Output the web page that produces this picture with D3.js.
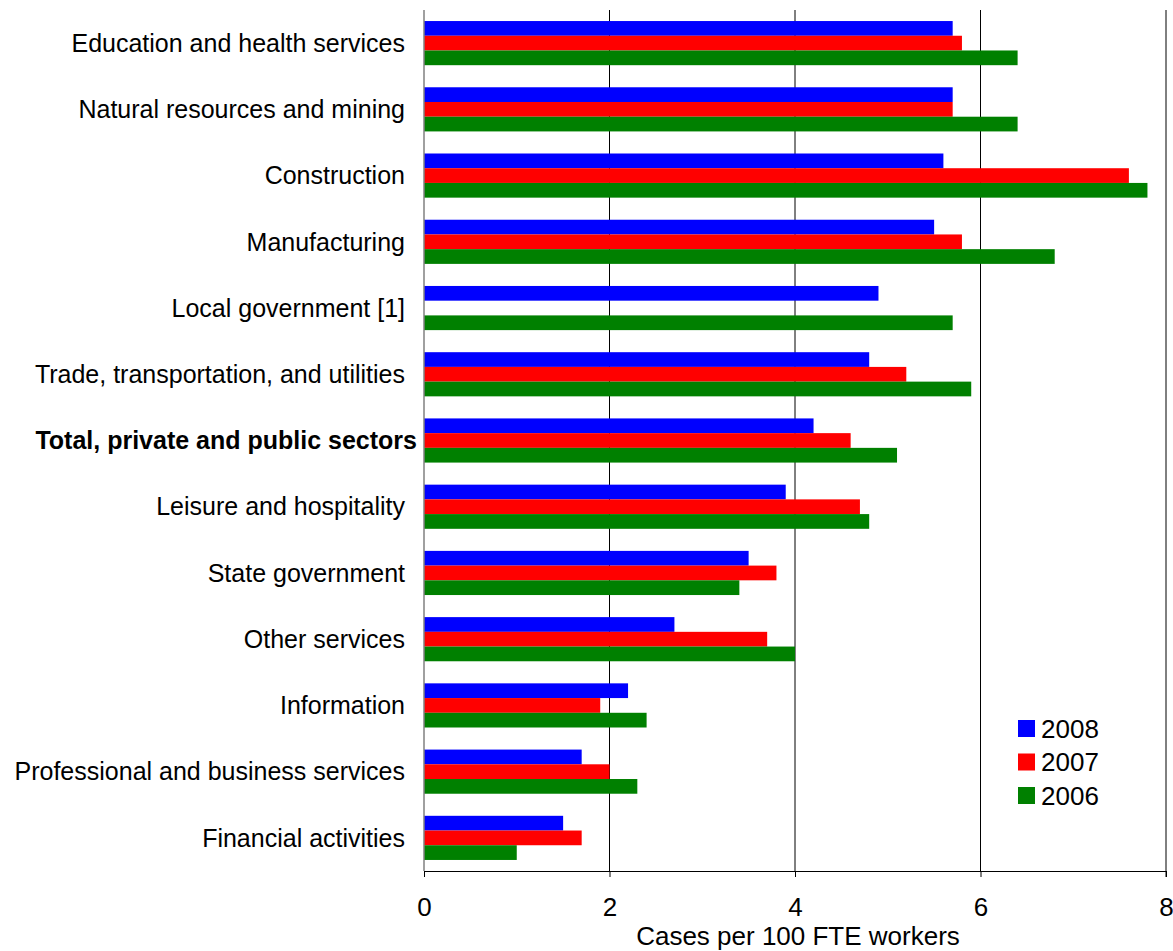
<!DOCTYPE html>
<html>
<head>
<meta charset="utf-8">
<script src="https://cdnjs.cloudflare.com/ajax/libs/d3/7.8.5/d3.min.js"></script>
<style>
  body { margin: 0; background: #fff; }
  .vis { width: 1173px; height: 951px; }
  text { font-family: "Liberation Sans", Arial, sans-serif; fill: #000; }
</style>
</head>
<body>
<div class="vis"></div>
<script>
(function() {
  'use strict';

  var categories = [
    'Education and health services',
    'Natural resources and mining',
    'Construction',
    'Manufacturing',
    'Local government [1]',
    'Trade, transportation, and utilities',
    'Total, private and public sectors',
    'Leisure and hospitality',
    'State government',
    'Other services',
    'Information',
    'Professional and business services',
    'Financial activities'
  ];
  var years = ['2008', '2007', '2006'];
  var colors = ['#0000ff', '#ff0000', '#008000'];
  var v2008 = [5.7, 5.7, 5.6, 5.5, 4.9, 4.8, 4.2, 3.9, 3.5, 2.7, 2.2, 1.7, 1.5];
  var v2007 = [5.8, 5.7, 7.6, 5.8, null, 5.2, 4.6, 4.7, 3.8, 3.7, 1.9, 2.0, 1.7];
  var v2006 = [6.4, 6.4, 7.8, 6.8, 5.7, 5.9, 5.1, 4.8, 3.4, 4.0, 2.4, 2.3, 1.0];
  var xTicks = [0, 2, 4, 6, 8];
  var boldCategory = 'Total, private and public sectors';

  var series = [v2008, v2007, v2006];

  var margin = {top: 10, right: 7, bottom: 80, left: 424},
    elWidth = 1173, elHeight = 951,
    width = elWidth - margin.left - margin.right,
    height = elHeight - margin.top - margin.bottom;

  var svg = d3.select('.vis').append('svg')
      .attr('width', elWidth)
      .attr('height', elHeight)
    .append('g')
      .attr('transform', 'translate(' + margin.left + ',' + margin.top + ')');

  var x = d3.scaleLinear().domain([0, 8]).range([0, width]);
  var y = d3.scaleBand().domain(categories).range([0, height])
    .paddingInner(1 / 3).paddingOuter(1 / 6);
  var ySub = d3.scaleBand().domain(years).range([0, y.bandwidth()]);

  // gridlines
  svg.selectAll('.grid')
    .data(xTicks.slice(1))
    .enter().append('line')
      .attr('x1', function(d) { return x(d); })
      .attr('x2', function(d) { return x(d); })
      .attr('y1', 0)
      .attr('y2', height)
      .attr('stroke', '#000')
      .attr('stroke-width', 1);

  // bars
  var rows = [];
  categories.forEach(function(c, i) {
    years.forEach(function(yr, j) {
      if (series[j][i] != null) rows.push({cat: c, year: yr, v: series[j][i], color: colors[j]});
    });
  });

  svg.selectAll('.bar')
    .data(rows)
    .enter().append('rect')
      .attr('class', 'bar')
      .attr('x', 0)
      .attr('y', function(d) { return y(d.cat) + ySub(d.year); })
      .attr('width', function(d) { return x(d.v); })
      .attr('height', ySub.bandwidth())
      .attr('fill', function(d) { return d.color; });

  // x axis
  var xAxis = svg.append('g')
    .attr('transform', 'translate(0,' + height + ')')
    .call(d3.axisBottom(x).tickValues(xTicks).tickSize(6).tickPadding(21));
  xAxis.select('.domain').attr('stroke', '#000').attr('d', 'M0.5,6V0.5H' + width + 'V6');
  xAxis.selectAll('text').attr('font-size', '26px').attr('font-family', '"Liberation Sans", Arial, sans-serif');

  // y axis line
  svg.append('line')
    .attr('x1', 0).attr('x2', 0).attr('y1', 0).attr('y2', height)
    .attr('stroke', '#808080').attr('stroke-width', 1.5);

  // category labels
  svg.selectAll('.cat')
    .data(categories)
    .enter().append('text')
      .attr('class', 'cat')
      .attr('x', function(d) { return d === boldCategory ? -7 : -19; })
      .attr('y', function(d) { return y(d) + y.bandwidth() / 2; })
      .attr('dy', '0.35em')
      .attr('text-anchor', 'end')
      .attr('font-size', '25px')
      .attr('font-weight', function(d) { return d === boldCategory ? 'bold' : 'normal'; })
      .text(function(d) { return d; });

  // axis title
  svg.append('text')
    .attr('x', x(4) + 3)
    .attr('y', height + 74)
    .attr('text-anchor', 'middle')
    .attr('font-size', '26px')
    .text('Cases per 100 FTE workers');

  // legend
  var legend = svg.selectAll('.legend')
    .data(years)
    .enter().append('g')
      .attr('transform', function(d, i) {
        return 'translate(' + (1018 - margin.left) + ',' + (720 - margin.top + i * 33.5) + ')';
      });
  legend.append('rect')
    .attr('width', 17).attr('height', 17)
    .attr('fill', function(d, i) { return colors[i]; });
  legend.append('text')
    .attr('x', 23).attr('y', 8.5).attr('dy', '0.35em')
    .attr('font-size', '26px')
    .text(function(d) { return d; });
}());
</script>
</body>
</html>
